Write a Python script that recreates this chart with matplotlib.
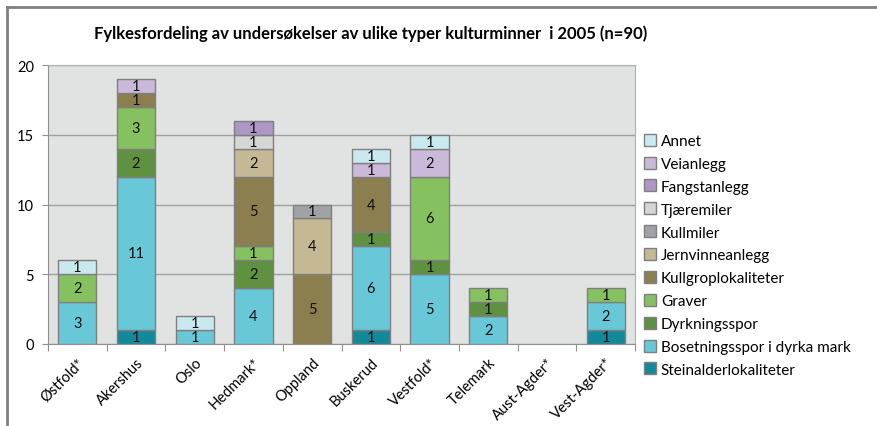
import numpy as np
from matplotlib import pyplot as plt
from matplotlib.lines import Line2D

plt.rcParams['font.family'] = ['Lato', 'DejaVu Sans']

counties = ['Østfold*', 'Akershus', 'Oslo', 'Hedmark*', 'Oppland', 'Buskerud',
            'Vestfold*', 'Telemark', 'Aust-Agder*', 'Vest-Agder*']

# series, bottom to top of each stack
series_names = ['Steinalderlokaliteter', 'Bosetningsspor i dyrka mark', 'Dyrkningsspor',
                'Graver', 'Kullgroplokaliteter', 'Jernvinneanlegg', 'Kullmiler',
                'Tjæremiler', 'Fangstanlegg', 'Veianlegg', 'Annet']
steinalder = [0, 1, 0, 0, 0, 1, 0, 0, 0, 1]
bosetning = [3, 11, 1, 4, 0, 6, 5, 2, 0, 2]
dyrkning = [0, 2, 0, 2, 0, 1, 1, 1, 0, 0]
graver = [2, 3, 0, 1, 0, 0, 6, 1, 0, 1]
kullgrop = [0, 1, 0, 5, 5, 4, 0, 0, 0, 0]
jernvinne = [0, 0, 0, 2, 4, 0, 0, 0, 0, 0]
kullmiler = [0, 0, 0, 0, 1, 0, 0, 0, 0, 0]
tjaeremiler = [0, 0, 0, 1, 0, 0, 0, 0, 0, 0]
fangst = [0, 0, 0, 1, 0, 0, 0, 0, 0, 0]
veianlegg = [0, 1, 0, 0, 0, 1, 2, 0, 0, 0]
annet = [1, 0, 1, 0, 0, 1, 1, 0, 0, 0]

series_values = [steinalder, bosetning, dyrkning, graver, kullgrop, jernvinne,
                 kullmiler, tjaeremiler, fangst, veianlegg, annet]
colors = ['#138a9b', '#68c8d7', '#5e9140', '#86c160', '#8b7e4f', '#c4b994',
          '#a1a2a5', '#d5d6d6', '#ae96c6', '#cbb9d9', '#c9e9ef']

fig = plt.figure(figsize=(8.77, 4.27), dpi=100)
ax = fig.add_axes([48 / 877, 82 / 427, 587 / 877, 279 / 427])
ax.set_facecolor('#e1e2e2')

x = np.arange(len(counties))
bottom = np.zeros(len(counties))
handles = []
for name, vals, col in zip(series_names, series_values, colors):
    vals = np.array(vals, dtype=float)
    keep = vals > 0
    ax.bar(x[keep], vals[keep], width=0.65, bottom=bottom[keep], color=col,
           edgecolor='#7f7f7f', linewidth=1.0, zorder=3)
    for xi, b, v in zip(x[keep], bottom[keep], vals[keep]):
        ax.text(xi, b + v / 2, '%d' % v, ha='center', va='center',
                fontsize=10.5, color='#111111', zorder=4)
    bottom += vals
    handles.append(Line2D([], [], marker='s', linestyle='none', markersize=8,
                          markerfacecolor=col, markeredgecolor='#7f7f7f', label=name))

ax.set_xlim(-0.5, len(counties) - 0.5)
ax.set_ylim(0, 20)
ax.set_yticks([0, 5, 10, 15, 20])
ax.yaxis.grid(True, color='#a0a0a0', linewidth=1.0, zorder=1)
ax.set_axisbelow(True)
for side in ['top', 'right']:
    ax.spines[side].set_color('#b0b0b0')
for side in ['left', 'bottom']:
    ax.spines[side].set_color('#909090')
ax.tick_params(axis='y', length=4, color='#909090', labelsize=10.5, pad=6)
ax.set_xticks(np.arange(-0.5, len(counties), 1.0))
ax.set_xticklabels([])
ax.set_xticks(x, minor=True)
ax.set_xticklabels(counties, minor=True, rotation=45, ha='right',
                   rotation_mode='anchor', fontsize=10.5)
ax.tick_params(axis='x', which='major', length=5, color='#909090')
ax.tick_params(axis='x', which='minor', length=0, pad=8)

fig.text(0.423, 0.922, 'Fylkesfordeling av undersøkelser av ulike typer kulturminner  i 2005 (n=90)',
         ha='center', va='center', fontsize=12, fontweight='bold')

fig.legend(handles[::-1], series_names[::-1], loc='upper left',
           bbox_to_anchor=(638 / 877, 1 - 129 / 427), frameon=False,
           fontsize=11, handlelength=0.8, handletextpad=0.3,
           labelspacing=0.58, borderaxespad=0)

# chart frame lines (top and left)
fig.add_artist(Line2D([7 / 877, 1], [1 - 8 / 427, 1 - 8 / 427], color='#808080', linewidth=2))
fig.add_artist(Line2D([7 / 877, 7 / 877], [0, 1 - 8 / 427], color='#808080', linewidth=2))

fig.savefig('out.png', dpi=100)
